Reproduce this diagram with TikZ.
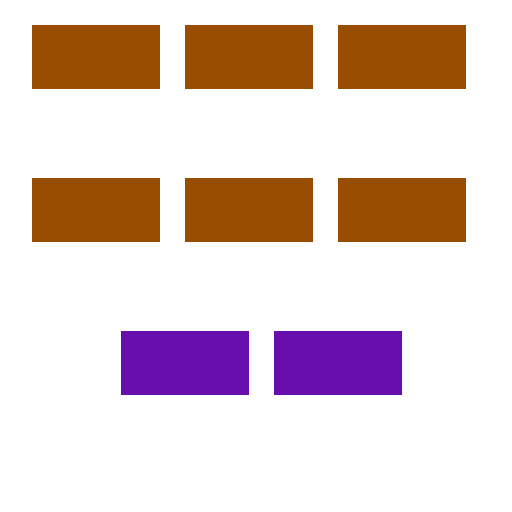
\documentclass[tikz,border=0pt]{standalone}
\usepackage{tikz}
\definecolor{mybrown}{RGB}{153,77,0}
\definecolor{mypurple}{RGB}{103,14,173}
\tikzset{
  block/.style={rectangle, inner sep=0pt, minimum width=128pt, minimum height=64pt},
  brownblock/.style={block, fill=mybrown},
  purpleblock/.style={block, fill=mypurple}
}
\begin{document}
\begin{tikzpicture}[x=1pt,y=1pt]
      \useasboundingbox (0,0) rectangle (512,512);
      % two rows of three
      \foreach \r/\y in {1/455,2/302}{
        \foreach \c/\x in {1/96,2/249,3/402}{
          \node[brownblock] (b\r\c) at (\x,\y) {};
        }
      }
      % bottom row
      \node[purpleblock] (p1) at (185,149) {};
      \node[purpleblock] (p2) at (338,149) {};
    \end{tikzpicture}
\end{document}
